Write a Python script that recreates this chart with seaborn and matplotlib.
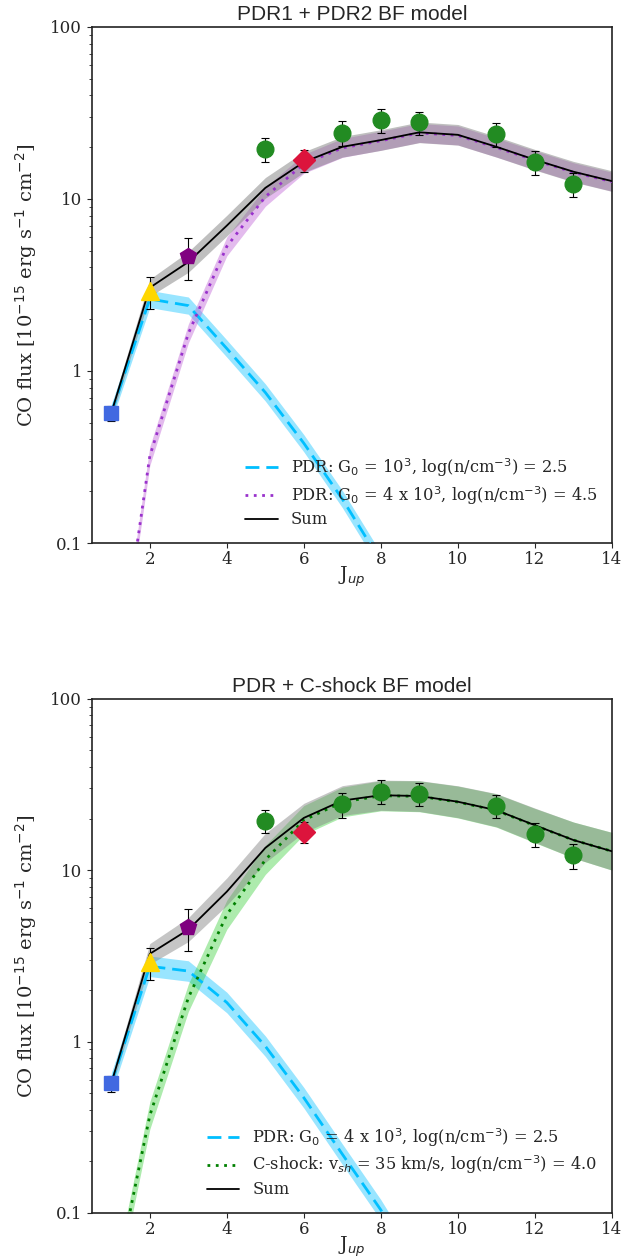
import numpy as np
import matplotlib
matplotlib.use("Agg")
import matplotlib.pyplot as plt
import seaborn as sns

# Rotational levels
j_up = [1, 2, 3, 4, 5, 6, 7, 8, 9, 10, 11, 12, 13, 14]

# Observed CO fluxes (10^-15 erg s^-1 cm^-2)
obs_j = [1, 2, 3, 5, 6, 7, 8, 9, 11, 12, 13]
obs_flux = [0.57, 2.9, 4.67, 19.5, 16.8, 24.3, 28.8, 27.9, 23.8, 16.3, 12.2]
obs_err = [0.06, 0.6, 1.3, 3.1, 2.4, 4.0, 4.6, 4.3, 3.7, 2.6, 2.0]

# Top panel: PDR1 + PDR2
pdr1_top = [0.57, 2.62, 2.4, 1.35, 0.75, 0.38, 0.18, 0.078, 0.03, 0.012, 0.005, 0.002, 0.001, 0.0005]
pdr2_top = [0.009, 0.32, 1.65, 5.3, 10.3, 16.0, 19.8, 21.8, 24.2, 23.4, 19.9, 16.8, 14.3, 12.6]
sum_top = [0.57, 3.05, 4.3, 7.0, 11.6, 16.4, 20.1, 22.0, 24.4, 23.6, 20.1, 16.9, 14.4, 12.7]

# Bottom panel: PDR + C-shock
pdr_bot = [0.57, 2.75, 2.58, 1.69, 0.94, 0.47, 0.22, 0.104, 0.045, 0.018, 0.007, 0.003, 0.001, 0.0005]
shock_bot = [0.03, 0.37, 1.8, 5.5, 11.5, 19.6, 25.0, 27.2, 27.0, 25.0, 22.3, 18.2, 15.0, 12.9]
sum_bot = [0.57, 3.25, 4.5, 7.5, 13.5, 20.2, 25.5, 27.4, 27.1, 25.1, 22.4, 18.3, 15.0, 12.9]

# Model uncertainty (half width of band, dex)
pdr1_top_dex = [0.05] * 14
pdr2_top_dex = [0.055] * 14
sum_top_dex = [0.03, 0.05, 0.06, 0.06, 0.06, 0.06, 0.06, 0.06, 0.06, 0.06, 0.06, 0.06, 0.06, 0.06]
pdr_bot_dex = [0.06] * 14
shock_bot_dex = [0.08, 0.08, 0.08, 0.085, 0.085, 0.085, 0.087, 0.088, 0.09, 0.093, 0.097, 0.1, 0.105, 0.11]
sum_bot_dex = [0.03, 0.06, 0.07, 0.08, 0.085, 0.085, 0.087, 0.088, 0.09, 0.093, 0.097, 0.1, 0.105, 0.11]

obs_marker = ["s", "^", "p", "o", "D", "o", "o", "o", "o", "o", "o"]
obs_color = ["royalblue", "gold", "purple", "forestgreen", "crimson", "forestgreen",
             "forestgreen", "forestgreen", "forestgreen", "forestgreen", "forestgreen"]
obs_size = [10.5, 12.5, 12, 12, 11.5, 12, 12, 12, 12, 12, 12]

sns.set_style("ticks")
plt.rcParams["font.family"] = ["DejaVu Serif"]
plt.rcParams["mathtext.fontset"] = "dejavusans"


def band(ax, y, dex, color, alpha):
    y = np.array(y)
    d = np.array(dex)
    ax.fill_between(j_up, y / 10 ** d, y * 10 ** d, color=color, alpha=alpha, lw=0, zorder=1)


def draw_obs(ax):
    for j, f, e, m, c, s in zip(obs_j, obs_flux, obs_err, obs_marker, obs_color, obs_size):
        ax.errorbar(j, f, yerr=e, fmt=m, color=c, ms=s, ecolor="k", elinewidth=0.8,
                    capsize=3, capthick=0.8, zorder=5)


def style_axes(ax, title):
    ax.set_yscale("log")
    ax.set_ylim(0.1, 100)
    ax.set_xlim(0.5, 14)
    ax.set_yticks([0.1, 1, 10, 100])
    ax.set_yticklabels(["0.1", "1", "10", "100"])
    ax.set_xticks([2, 4, 6, 8, 10, 12, 14])
    ax.tick_params(axis="both", labelsize=12, direction="out")
    ax.tick_params(axis="x", pad=2.5)
    ax.tick_params(axis="y", which="minor", length=2)
    for sp in ax.spines.values():
        sp.set_visible(True)
        sp.set_color("#222222")
        sp.set_linewidth(1.2)
    ax.set_title(title, fontsize=15, family="Liberation Sans", pad=5)
    ax.set_xlabel("J$_{up}$", fontsize=13.5, labelpad=-3)
    ax.set_ylabel("CO flux [10$^{-15}$ erg s$^{-1}$ cm$^{-2}$]", fontsize=14, labelpad=8)
    ax.legend(loc="lower right", frameon=False, fontsize=11.7, borderaxespad=0.5,
              handlelength=2.0, labelspacing=0.3)


fig = plt.figure(figsize=(6.36, 12.59), dpi=100)
ax1 = fig.add_axes([0.1447, 0.5687, 0.8175, 0.4099])
ax2 = fig.add_axes([0.1447, 0.0366, 0.8175, 0.4083])

# top panel
band(ax1, pdr1_top, pdr1_top_dex, "deepskyblue", 0.4)
band(ax1, pdr2_top, pdr2_top_dex, "mediumorchid", 0.4)
band(ax1, sum_top, sum_top_dex, "gray", 0.5)
sns.lineplot(x=j_up, y=pdr1_top, ax=ax1, color="deepskyblue", lw=2, linestyle=(0, (5, 2.5)),
             label="PDR: G$_0$ = 10$^3$, log(n/cm$^{-3}$) = 2.5", zorder=3)
sns.lineplot(x=j_up, y=pdr2_top, ax=ax1, color="darkorchid", lw=2, linestyle=(0, (1, 2)),
             label="PDR: G$_0$ = 4 x 10$^3$, log(n/cm$^{-3}$) = 4.5", zorder=3)
sns.lineplot(x=j_up, y=sum_top, ax=ax1, color="black", lw=1.3, label="Sum", zorder=4)
draw_obs(ax1)
style_axes(ax1, "PDR1 + PDR2 BF model")

# bottom panel
band(ax2, pdr_bot, pdr_bot_dex, "deepskyblue", 0.4)
band(ax2, shock_bot, shock_bot_dex, "limegreen", 0.4)
band(ax2, sum_bot, sum_bot_dex, "gray", 0.45)
sns.lineplot(x=j_up, y=pdr_bot, ax=ax2, color="deepskyblue", lw=2, linestyle=(0, (5, 2.5)),
             label="PDR: G$_0$ = 4 x 10$^3$, log(n/cm$^{-3}$) = 2.5", zorder=3)
sns.lineplot(x=j_up, y=shock_bot, ax=ax2, color="green", lw=2, linestyle=(0, (1, 2)),
             label="C-shock: v$_{sh}$ = 35 km/s, log(n/cm$^{-3}$) = 4.0", zorder=3)
sns.lineplot(x=j_up, y=sum_bot, ax=ax2, color="black", lw=1.3, label="Sum", zorder=4)
draw_obs(ax2)
style_axes(ax2, "PDR + C-shock BF model")

fig.savefig("out.png", dpi=100)
